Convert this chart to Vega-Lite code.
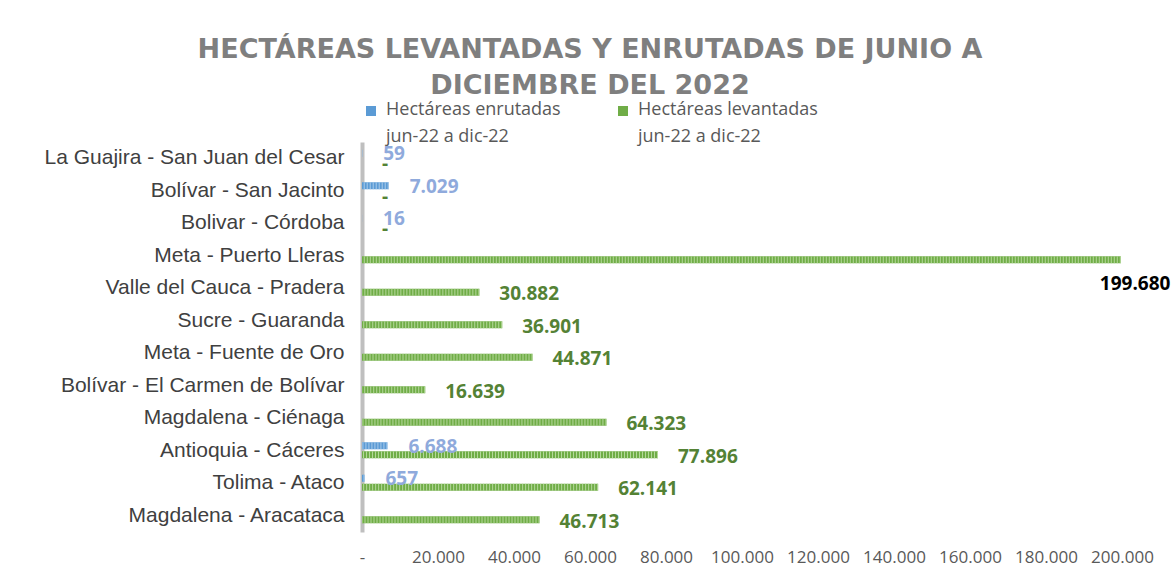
{
  "$schema": "https://vega.github.io/schema/vega-lite/v6.json",
  "width": 760,
  "height": 390,
  "autosize": {"type": "none"},
  "padding": {"left": 362, "top": 142, "right": 50, "bottom": 39},
  "background": "white",
  "title": {
    "text": ["HECTÁREAS LEVANTADAS Y ENRUTADAS DE JUNIO A", "DICIEMBRE DEL 2022"],
    "font": "DejaVu Sans",
    "fontSize": 27,
    "fontWeight": "bold",
    "color": "#7f7f7f",
    "lineHeight": 36,
    "anchor": "middle",
    "frame": "group",
    "dx": -152,
    "offset": 2
  },
  "data": {
    "values": [
      {"lugar": "La Guajira - San Juan del Cesar", "enrutadas": 59, "levantadas": 0},
      {"lugar": "Bolívar - San Jacinto", "enrutadas": 7029, "levantadas": 0},
      {"lugar": "Bolivar - Córdoba", "enrutadas": 16, "levantadas": 0},
      {"lugar": "Meta - Puerto Lleras", "enrutadas": null, "levantadas": 199680},
      {"lugar": "Valle del Cauca - Pradera", "enrutadas": null, "levantadas": 30882},
      {"lugar": "Sucre - Guaranda", "enrutadas": null, "levantadas": 36901},
      {"lugar": "Meta - Fuente de Oro", "enrutadas": null, "levantadas": 44871},
      {"lugar": "Bolívar - El Carmen de Bolívar", "enrutadas": null, "levantadas": 16639},
      {"lugar": "Magdalena - Ciénaga", "enrutadas": null, "levantadas": 64323},
      {"lugar": "Antioquia - Cáceres", "enrutadas": 6688, "levantadas": 77896},
      {"lugar": "Tolima - Ataco", "enrutadas": 657, "levantadas": 62141},
      {"lugar": "Magdalena - Aracataca", "enrutadas": null, "levantadas": 46713}
    ]
  },
  "transform": [
    {"fold": ["enrutadas", "levantadas"], "as": ["serie", "valor"]},
    {"filter": "isValid(datum.valor)"}
  ],
  "encoding": {
    "y": {
      "field": "lugar",
      "type": "nominal",
      "sort": [
        "La Guajira - San Juan del Cesar",
        "Bolívar - San Jacinto",
        "Bolivar - Córdoba",
        "Meta - Puerto Lleras",
        "Valle del Cauca - Pradera",
        "Sucre - Guaranda",
        "Meta - Fuente de Oro",
        "Bolívar - El Carmen de Bolívar",
        "Magdalena - Ciénaga",
        "Antioquia - Cáceres",
        "Tolima - Ataco",
        "Magdalena - Aracataca"
      ],
      "scale": {"paddingInner": 0, "paddingOuter": 0},
      "axis": {
        "title": null,
        "ticks": false,
        "labelPadding": 18,
        "labelFont": "Liberation Sans",
        "labelFontSize": 21,
        "labelColor": "#404040",
        "domainColor": "#BFBFBF",
        "domainWidth": 4,
        "labelLimit": 400
      }
    },
    "x": {
      "field": "valor",
      "type": "quantitative",
      "scale": {"domain": [0, 200000], "nice": false},
      "axis": {
        "title": null,
        "values": [0, 20000, 40000, 60000, 80000, 100000, 120000, 140000, 160000, 180000, 200000],
        "labelExpr": "datum.value == 0 ? '-' : format(datum.value, ',')",
        "domain": false,
        "ticks": false,
        "grid": false,
        "labelFont": "Open Sans",
        "labelFontSize": 17,
        "labelColor": "#595959",
        "labelPadding": 17,
        "labelFlush": false,
        "labelOverlap": false
      }
    }
  },
  "layer": [
    {
      "transform": [{"filter": "datum.serie == 'enrutadas'"}],
      "mark": {"type": "bar", "height": 7, "yOffset": -5},
      "encoding": {
        "color": {
          "field": "serie",
          "type": "nominal",
          "scale": {"domain": ["enrutadas", "levantadas"], "range": ["#5B9BD5", "#70AD47"]},
          "legend": {
            "title": null,
            "orient": "none",
            "direction": "horizontal",
            "legendX": 0,
            "legendY": -40,
            "padding": 0,
            "symbolType": "square",
            "symbolSize": 100,
            "symbolStrokeWidth": 0,
            "labelOffset": 6,
            "columnPadding": 53,
            "labelFont": "Open Sans",
            "labelFontSize": 18,
            "labelColor": "#595959",
            "labelLimit": 400,
            "labelExpr": "datum.value == 'enrutadas' ? ['Hectáreas enrutadas', 'jun-22 a dic-22'] : ['Hectáreas levantadas', 'jun-22 a dic-22']",
            "encode": {"labels": {"update": {"lineHeight": {"value": 27}, "dy": {"value": -1}}}}
          }
        }
      }
    },
    {
      "transform": [{"filter": "datum.serie == 'levantadas'"}],
      "mark": {"type": "bar", "height": 7, "yOffset": 4},
      "encoding": {
        "color": {"field": "serie", "type": "nominal"}
      }
    },
    {
      "transform": [{"filter": "datum.serie == 'enrutadas'"}],
      "mark": {"type": "rule", "strokeWidth": 7, "yOffset": -5, "color": "#A9CBEA", "strokeDash": [1, 2]},
      "encoding": {"x2": {"datum": 0}}
    },
    {
      "transform": [{"filter": "datum.serie == 'levantadas'"}],
      "mark": {"type": "rule", "strokeWidth": 7, "yOffset": 4, "color": "#B4D89A", "strokeDash": [1, 2]},
      "encoding": {"x2": {"datum": 0}}
    },
    {
      "transform": [{"filter": "datum.serie == 'enrutadas'"}],
      "mark": {"type": "text", "align": "left", "baseline": "middle", "dx": 21, "yOffset": -4, "font": "Open Sans", "fontSize": 19, "fontWeight": "bold", "color": "#8FAADC"},
      "encoding": {"text": {"field": "valor", "type": "quantitative", "format": ","}}
    },
    {
      "transform": [{"filter": "datum.serie == 'levantadas' && datum.valor < 150000"}],
      "mark": {"type": "text", "align": "left", "baseline": "middle", "dx": 20, "yOffset": 6, "font": "Open Sans", "fontSize": 19, "fontWeight": "bold", "color": "#548235"},
      "encoding": {"text": {"condition": {"test": "datum.valor == 0", "value": "-"}, "field": "valor", "type": "quantitative", "format": ","}}
    },
    {
      "transform": [{"filter": "datum.serie == 'levantadas' && datum.valor >= 150000"}],
      "mark": {"type": "text", "align": "left", "baseline": "middle", "dx": -21, "yOffset": 28, "font": "Open Sans", "fontSize": 19, "fontWeight": "bold", "color": "#000000"},
      "encoding": {"text": {"field": "valor", "type": "quantitative", "format": ","}}
    }
  ],
  "config": {
    "view": {"stroke": null},
    "locale": {"number": {"decimal": ",", "thousands": ".", "grouping": [3], "currency": ["$", ""]}}
  }
}
